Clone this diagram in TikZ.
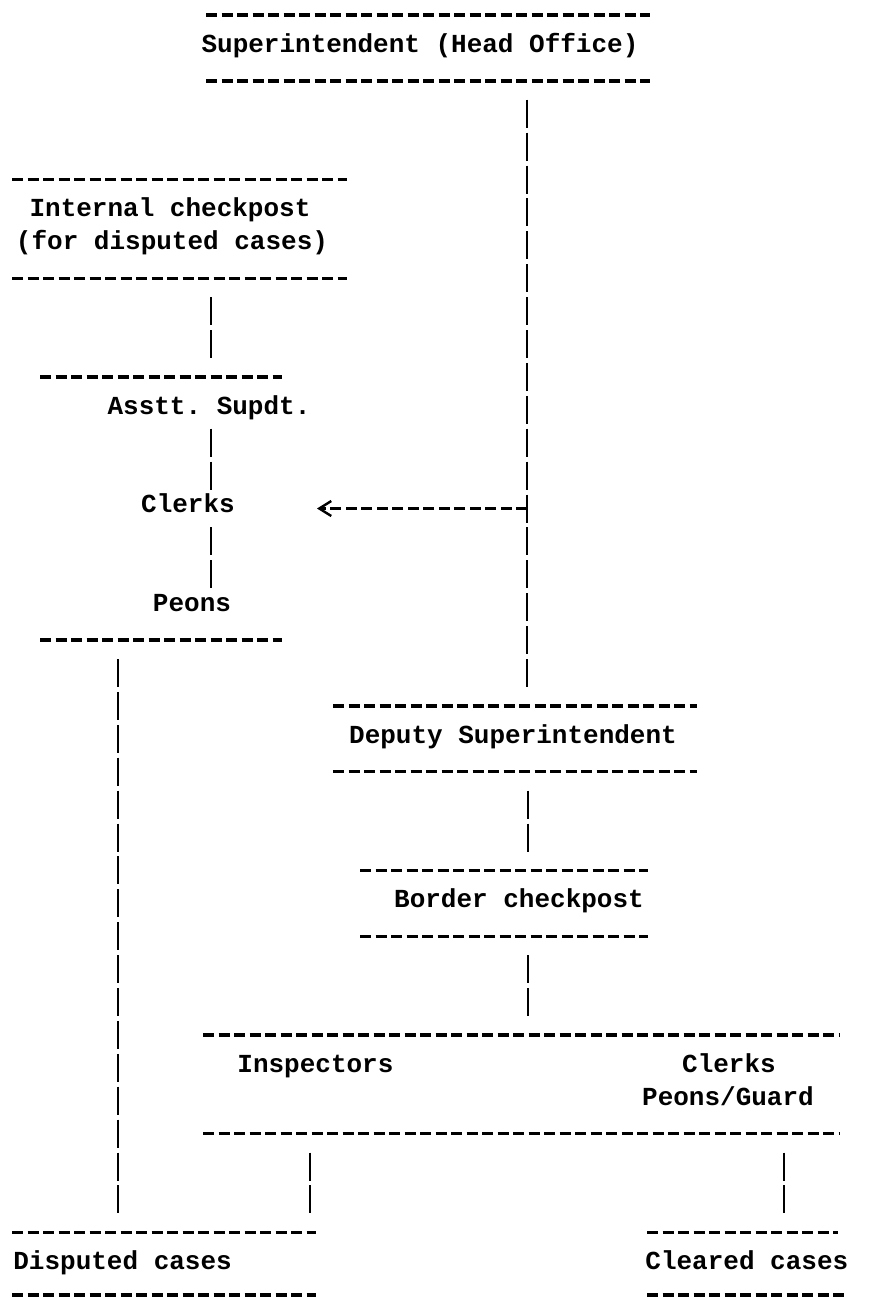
\documentclass[tikz,border=0pt]{standalone}
\usepackage{fontspec}
\setmonofont{Liberation Mono}
\usetikzlibrary{arrows.meta,positioning}

\begin{document}
\begin{tikzpicture}[
    x=0.5pt, y=-0.5pt,
    font=\ttfamily\bfseries\fontsize{13}{15}\selectfont,
    rule/.style={
        line width=1.7pt,
        dash pattern=on 5.5pt off 2.25pt
    },
    bar/.style={
        line width=1.1pt,
        dash pattern=on 14pt off 2.45pt
    },
    lbl/.style={
        inner sep=0pt,
        anchor=mid
    }
]

\useasboundingbox (0,0) rectangle (878,1298);


\node[lbl] (hq) at (420,47.9) {Superintendent (Head Office)};
\draw[rule] (206,15) -- (650,15);
\draw[rule] (206,80.8) -- (650,80.8);

\coordinate (main-a) at (527,99.7);
\coordinate (main-c) at (527,508.5);
\coordinate (main-b) at (527,687);
\draw[bar] (main-a) -- (main-b);


\node[lbl] (icp1) at (170,212.4) {Internal checkpost};
\node[lbl] (icp2) at (172,245.3) {(for disputed cases)};
\draw[rule] (12,179.5) -- (347,179.5);
\draw[rule] (12,278.2) -- (347,278.2);

\coordinate (icp-a) at (211,297.1);
\coordinate (icp-b) at (211,358);
\draw[bar] (icp-a) -- (icp-b);


\draw[rule] (40,376.9) -- (282,376.9);
\node[lbl] (asst) at (209,409.8) {Asstt. Supdt.};
\node[lbl] (clerksA) at (188,508.5) {Clerks};
\node[lbl] (peonsA) at (192,607.2) {Peons};
\draw[rule] (40,640.1) -- (282,640.1);

\coordinate (asst-a) at (211,428.7);
\coordinate (asst-b) at (211,489.6);
\draw[bar] (asst-a) -- (asst-b);

\coordinate (clerks-a) at (211,527.4);
\coordinate (clerks-b) at (211,588.3);
\draw[bar] (clerks-a) -- (clerks-b);

\coordinate (arrow-tip) at (317,508.5);
\draw[rule,-{Straight Barb[length=6pt,width=7.5pt,line width=1.2pt]}] (main-c) -- (arrow-tip);


\coordinate (disp-a) at (118,659);
\coordinate (disp-b) at (118,1213.4);
\draw[bar] (disp-a) -- (disp-b);


\node[lbl] (dsupt) at (513,738.8) {Deputy Superintendent};
\draw[rule] (333,705.9) -- (697,705.9);
\draw[rule] (333,771.7) -- (697,771.7);

\coordinate (ds-a) at (528,790.6);
\coordinate (ds-b) at (528,851.5);
\draw[bar] (ds-a) -- (ds-b);


\node[lbl] (bcp) at (519,903.3) {Border checkpost};
\draw[rule] (360,870.4) -- (648,870.4);
\draw[rule] (360,936.2) -- (648,936.2);

\coordinate (bcp-a) at (528,955.1);
\coordinate (bcp-b) at (528,1016);
\draw[bar] (bcp-a) -- (bcp-b);


\draw[rule] (203,1034.9) -- (840,1034.9);
\node[lbl,anchor=mid west] (insp) at (237,1067.8) {Inspectors};
\node[lbl] (clerksB) at (729,1067.8) {Clerks};
\node[lbl] (guard) at (728,1100.7) {Peons/Guard};
\draw[rule] (203,1133.6) -- (840,1133.6);

\coordinate (insp-a) at (310,1152.5);
\coordinate (insp-b) at (310,1213.4);
\draw[bar] (insp-a) -- (insp-b);

\coordinate (guard-a) at (784,1152.5);
\coordinate (guard-b) at (784,1213.4);
\draw[bar] (guard-a) -- (guard-b);


\draw[rule] (12,1232.3) -- (316,1232.3);
\node[lbl,anchor=mid west] (disp) at (13,1265.2) {Disputed cases};
\draw[rule] (12,1295) -- (316,1295);

\draw[rule] (647,1232.3) -- (838,1232.3);
\node[lbl,anchor=mid west] (clear) at (645,1265.2) {Cleared cases};
\draw[rule] (647,1295) -- (845,1295);

\end{tikzpicture}
\end{document}
